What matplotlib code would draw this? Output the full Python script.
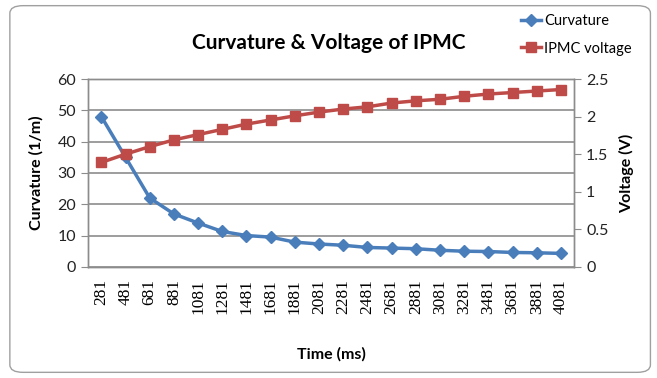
import matplotlib
matplotlib.use("Agg")
import matplotlib.pyplot as plt
from matplotlib.patches import FancyBboxPatch

plt.rcParams['font.family'] = ['Lato', 'DejaVu Sans']

time_ms = ["281", "481", "681", "881", "1081", "1281", "1481", "1681", "1881", "2081",
           "2281", "2481", "2681", "2881", "3081", "3281", "3481", "3681", "3881", "4081"]
curvature = [48, 35, 22, 16.9, 14, 11.3, 10, 9.5, 7.9, 7.3,
             6.9, 6.2, 6.0, 5.8, 5.3, 5.0, 4.9, 4.6, 4.5, 4.3]
voltage = [1.39, 1.50, 1.60, 1.69, 1.76, 1.83, 1.90, 1.955, 2.01, 2.06,
           2.10, 2.13, 2.18, 2.21, 2.23, 2.27, 2.30, 2.32, 2.34, 2.36]

blue = "#4a7ebb"
red = "#be4b48"
grid = "#8c8c8c"

fig = plt.figure(figsize=(6.57, 3.78), dpi=100)
# outer chart border
fig.patches.append(FancyBboxPatch((0.015, 0.015), 0.975, 0.97, boxstyle="round,pad=0,rounding_size=0.02",
                                  transform=fig.transFigure, fill=False, ec="#a0a0a0", lw=1.0))

ax = fig.add_axes([0.134, 0.294, 0.740, 0.497])
ax2 = ax.twinx()

x = range(len(time_ms))
l1, = ax.plot(x, curvature, color=blue, lw=2.5, marker="D", ms=6, label="Curvature", zorder=3)
l2, = ax2.plot(x, voltage, color=red, lw=2.5, marker="s", ms=7, label="IPMC voltage", zorder=3)

ax.set_xlim(-0.55, len(time_ms) - 0.45)
ax.set_ylim(0, 60)
ax2.set_ylim(0, 2.5)
ax.set_yticks(range(0, 61, 10))
ax2.set_yticks([0, 0.5, 1, 1.5, 2, 2.5])
ax2.set_yticklabels(["0", "0.5", "1", "1.5", "2", "2.5"])
ax.set_xticks(list(x))
ax.set_xticklabels(time_ms, rotation=90, fontsize=12.5, family=["Liberation Serif", "DejaVu Serif"])
ax.tick_params(axis="x", length=0, pad=9)
ax.tick_params(axis="y", labelsize=11.5, length=5, color=grid, labelcolor="#222222")
ax2.tick_params(axis="y", labelsize=11.5, length=5, color=grid, labelcolor="#222222")
ax.grid(axis="y", color=grid, lw=1.2)
ax.set_axisbelow(True)
for a in (ax, ax2):
    for s in a.spines.values():
        s.set_color(grid)
        s.set_linewidth(1.0)

ax.set_ylabel("Curvature (1/m)", fontsize=11.5, fontweight="bold", labelpad=10)
ax2.set_ylabel("Voltage (V)", fontsize=11.5, fontweight="bold", labelpad=8)
ax.set_xlabel("Time (ms)", fontsize=11.5, fontweight="bold", labelpad=24)

fig.text(0.50, 0.885, "Curvature & Voltage of IPMC", ha="center", va="center",
         fontsize=15, fontweight="bold")
fig.legend(handles=[l1, l2], loc="upper right", bbox_to_anchor=(0.975, 0.985),
           frameon=False, fontsize=10.5, handlelength=1.4, handletextpad=0.2,
           labelspacing=0.9, borderaxespad=0.2)

fig.savefig("out.png", dpi=100)
